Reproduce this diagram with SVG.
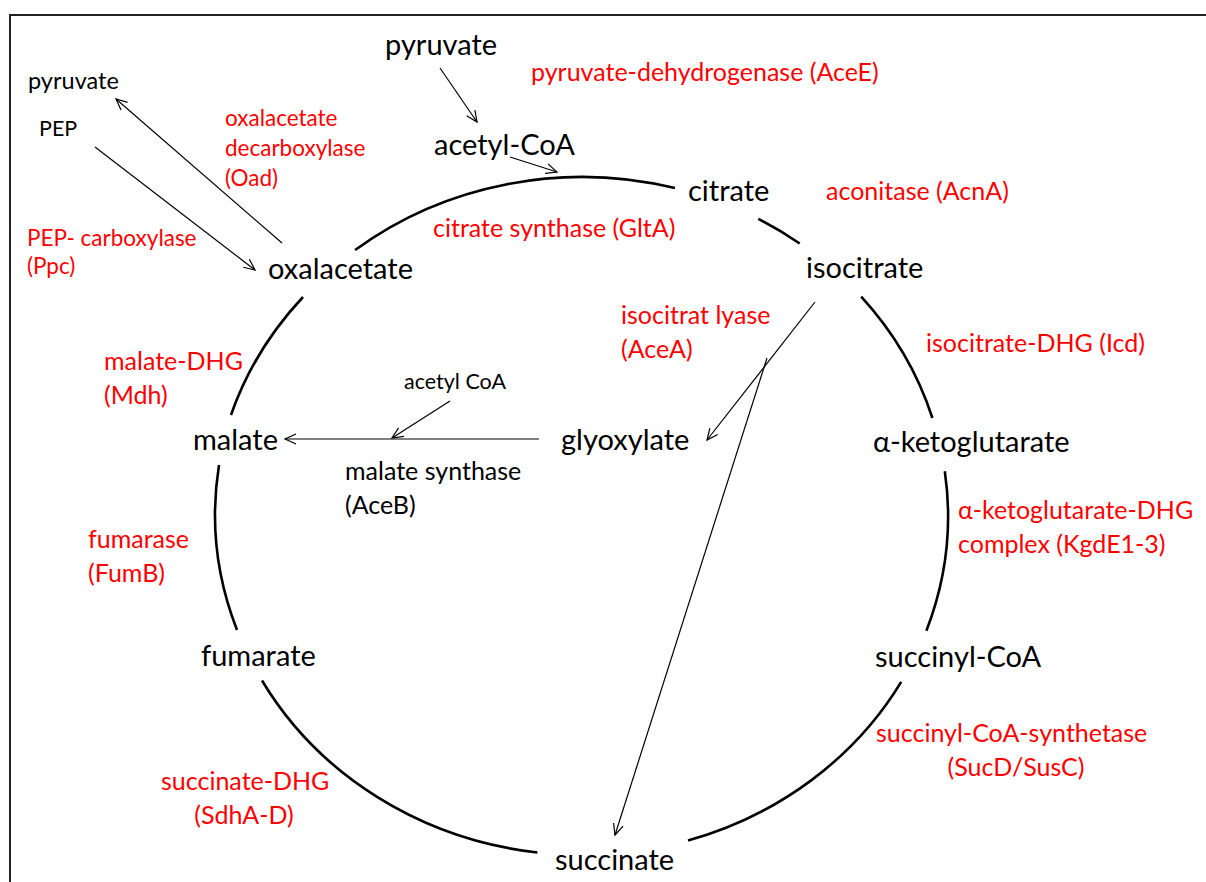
<svg xmlns="http://www.w3.org/2000/svg" width="1206" height="882" viewBox="0 0 1206 882">
<defs>
<marker id="ah" viewBox="-12 -6 14 12" refX="0" refY="0" markerWidth="14" markerHeight="12" markerUnits="userSpaceOnUse" orient="auto" overflow="visible">
<path d="M-11,-5 L0,0 L-11,5" fill="none" stroke="#000" stroke-width="1.2"/>
</marker>
<style>
.m{font-family:Lato,"Liberation Sans",sans-serif;font-size:29px;fill:#000}
.r{font-family:Lato,"Liberation Sans",sans-serif;font-size:25px;fill:#ff0000}
.r2{font-family:Lato,"Liberation Sans",sans-serif;font-size:22.5px;fill:#ff0000}
.s{font-family:Lato,"Liberation Sans",sans-serif;font-size:21.5px;fill:#000}
.s2{font-family:Lato,"Liberation Sans",sans-serif;font-size:23.5px;fill:#000}
.ms{font-family:Lato,"Liberation Sans",sans-serif;font-size:25px;fill:#000}
.arc{fill:none;stroke:#000;stroke-width:2.6}
.c{fill:none;stroke:#000;stroke-width:1.2;marker-end:url(#ah)}
</style>
</defs>
<rect width="1206" height="882" fill="#fff"/>
<path d="M10,882 V15 H1206" fill="none" stroke="#222" stroke-width="2"/>
<g id="cycle">
<path class="arc" d="M355.1,250 A366,339 0 0 1 674.9,188.1"/>
<path class="arc" d="M758.3,218.9 A366,339 0 0 1 799.7,243.5"/>
<path class="arc" d="M861.2,296.7 A366,339 0 0 1 932.4,418"/>
<path class="arc" d="M944.8,471.2 A366,339 0 0 1 926.4,630.8"/>
<path class="arc" d="M901.2,681.9 A366,339 0 0 1 688,840.5"/>
<path class="arc" d="M537.4,852.5 A366,339 0 0 1 262,680.5"/>
<path class="arc" d="M237,630 A366,339 0 0 1 219,465"/>
<path class="arc" d="M231,415 A366,339 0 0 1 303,297"/>
</g>
<g id="connectors">
<line class="c" x1="440" y1="68" x2="477" y2="122"/>
<line class="c" x1="510" y1="157" x2="557" y2="172"/>
<line class="c" x1="282" y1="243" x2="116" y2="99"/>
<line class="c" x1="95" y1="147" x2="255" y2="270"/>
<line class="c" x1="539" y1="439" x2="285" y2="439"/>
<line class="c" x1="450" y1="401" x2="392" y2="438"/>
<line class="c" x1="815" y1="302" x2="707" y2="440"/>
<line class="c" x1="767" y1="358" x2="615" y2="835"/>
</g>
<g id="n-pyruvate-top"><text class="m" x="385" y="55">pyruvate</text></g>
<g id="n-acetylcoa"><text class="m" x="434" y="155">acetyl-CoA</text></g>
<g id="n-citrate"><text class="m" x="688" y="201">citrate</text></g>
<g id="n-isocitrate"><text class="m" x="806" y="278">isocitrate</text></g>
<g id="n-oxalacetate"><text class="m" x="268" y="279">oxalacetate</text></g>
<g id="n-malate"><text class="m" x="193" y="450">malate</text></g>
<g id="n-glyoxylate"><text class="m" x="561" y="450">glyoxylate</text></g>
<g id="n-akg"><text class="m" x="873" y="452">α-ketoglutarate</text></g>
<g id="n-fumarate"><text class="m" x="201" y="666">fumarate</text></g>
<g id="n-succinylcoa"><text class="m" x="875" y="667">succinyl-CoA</text></g>
<g id="n-succinate"><text class="m" x="555" y="870">succinate</text></g>
<g id="n-pyruvate-left"><text class="s2" x="28" y="89">pyruvate</text></g>
<g id="n-pep"><text class="s" x="39" y="136">PEP</text></g>
<g id="n-acetylcoa2"><text class="s" x="404" y="389">acetyl CoA</text></g>
<g id="e-aceb"><text class="ms" x="345" y="480">malate synthase</text><text class="ms" x="345" y="514">(AceB)</text></g>
<g id="e-acee"><text class="r" x="531" y="81">pyruvate-dehydrogenase (AceE)</text></g>
<g id="e-oad"><text class="r2" x="225" y="126">oxalacetate</text><text class="r2" x="225" y="156">decarboxylase</text><text class="r2" x="225" y="186">(Oad)</text></g>
<g id="e-acna"><text class="r" x="826" y="200">aconitase (AcnA)</text></g>
<g id="e-glta"><text class="r" x="433" y="237">citrate synthase (GltA)</text></g>
<g id="e-ppc"><text class="r2" x="27" y="246">PEP- carboxylase</text><text class="r2" x="27" y="274">(Ppc)</text></g>
<g id="e-acea"><text class="r" x="621" y="324">isocitrat lyase</text><text class="r" x="621" y="358">(AceA)</text></g>
<g id="e-icd"><text class="r" x="926" y="352">isocitrate-DHG (Icd)</text></g>
<g id="e-mdh"><text class="r" x="104" y="370">malate-DHG</text><text class="r" x="104" y="404">(Mdh)</text></g>
<g id="e-kgd"><text class="r" x="958" y="519">α-ketoglutarate-DHG</text><text class="r" x="958" y="553">complex (KgdE1-3)</text></g>
<g id="e-fum"><text class="r" x="88" y="548">fumarase</text><text class="r" x="88" y="582">(FumB)</text></g>
<g id="e-suc"><text class="r" x="876" y="742">succinyl-CoA-synthetase</text><text class="r" x="1016" y="776" text-anchor="middle">(SucD/SusC)</text></g>
<g id="e-sdh"><text class="r" x="161" y="790">succinate-DHG</text><text class="r" x="244" y="824" text-anchor="middle">(SdhA-D)</text></g>
</svg>
